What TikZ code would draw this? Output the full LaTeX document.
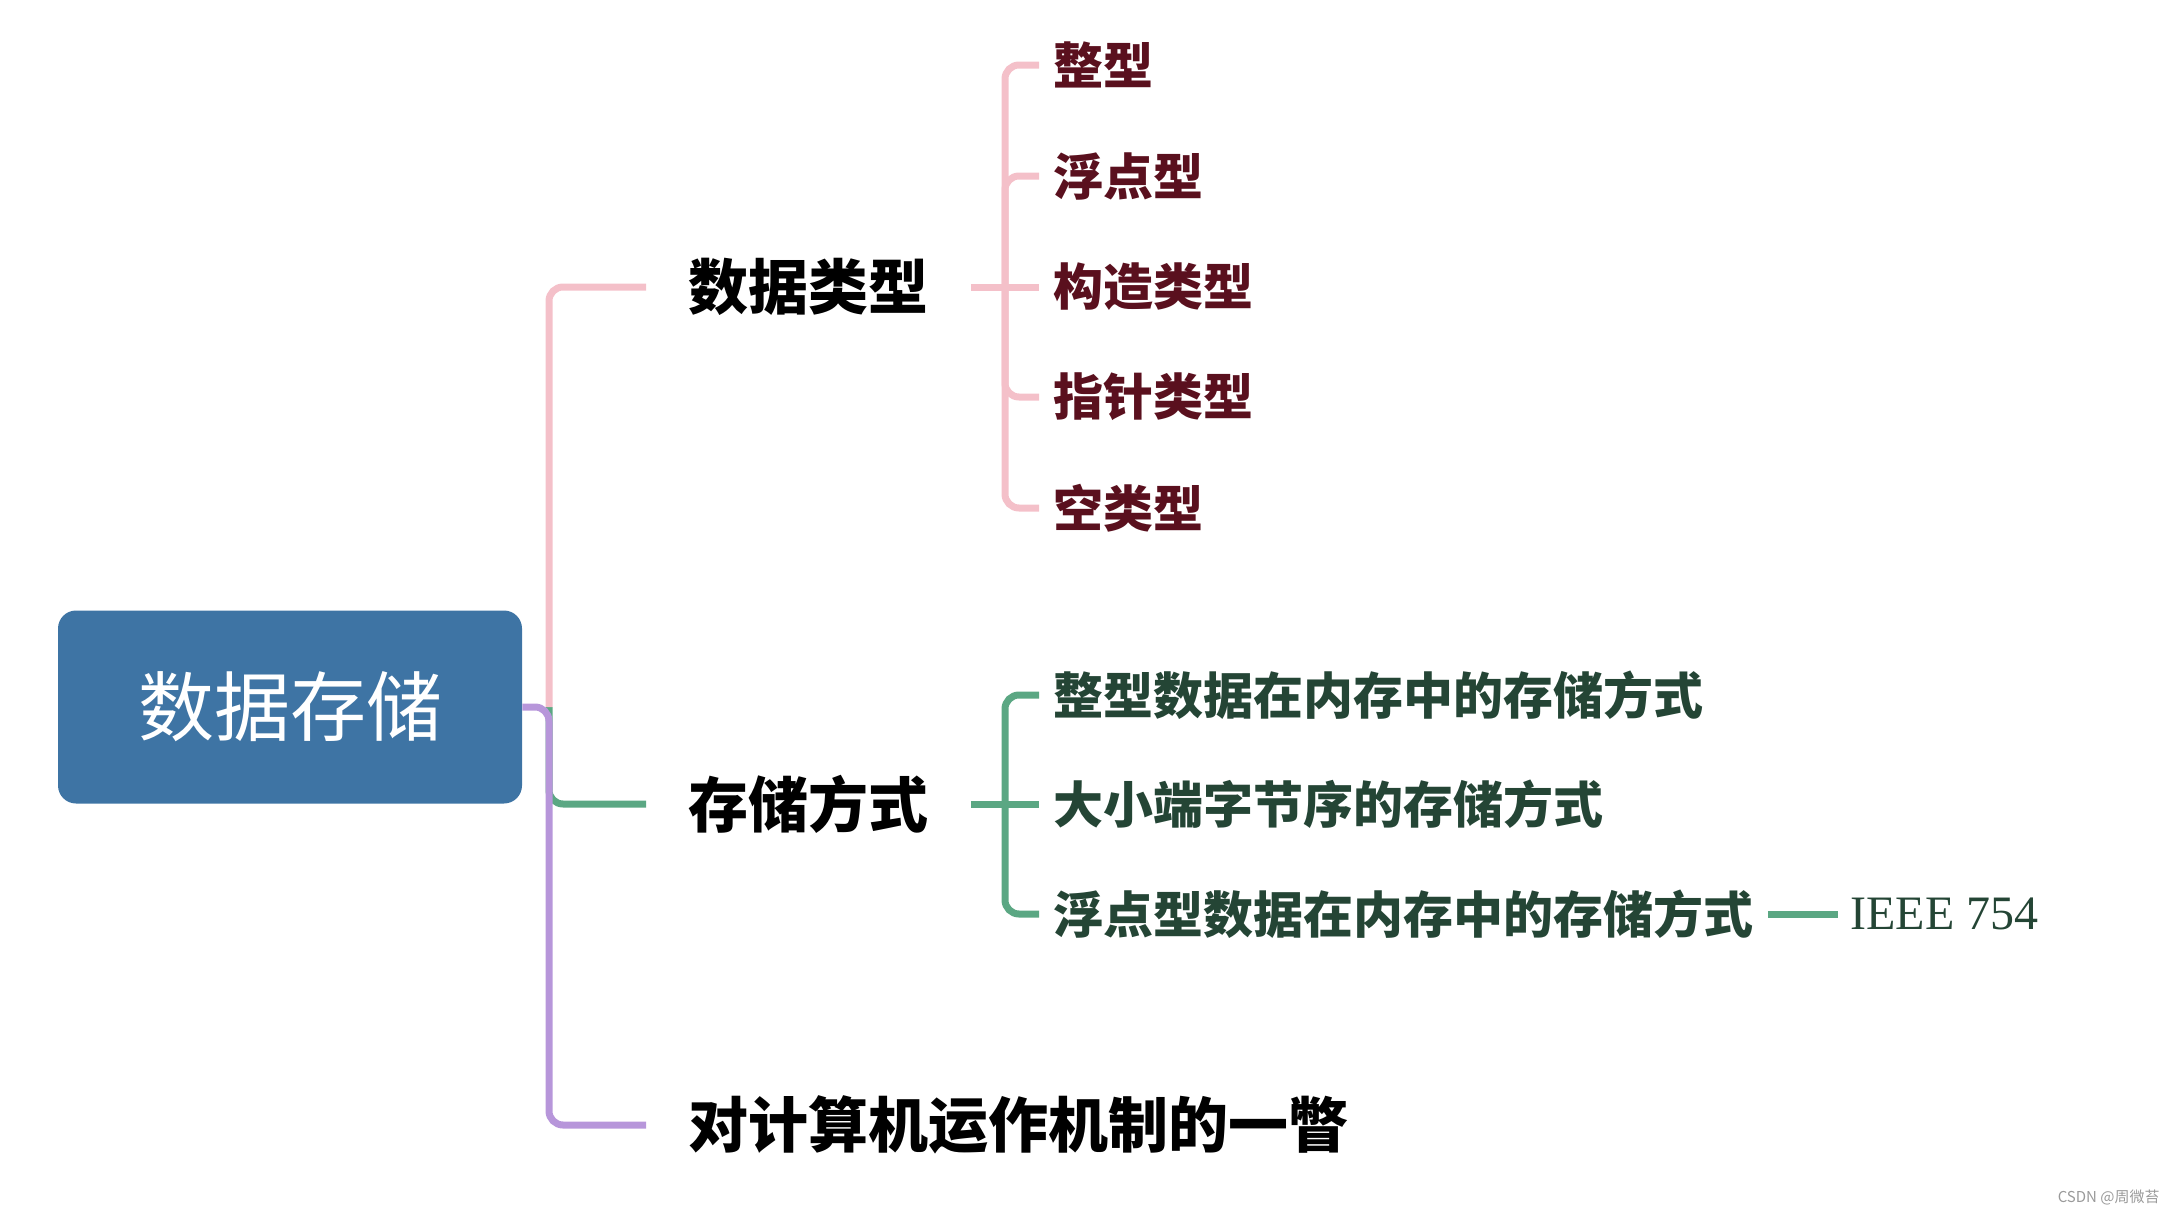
\documentclass[tikz,border=0pt]{standalone}
\usepackage{fontspec}
\setmainfont{Liberation Serif}
\newfontfamily\cjk{Noto Sans CJK SC}
\newfontfamily\cjkk{Noto Sans CJK SC Black}
\definecolor{boxblue}{HTML}{3E74A4}
\definecolor{pinkline}{HTML}{F4C0C9}
\definecolor{purpline}{HTML}{B796DA}
\definecolor{greenline}{HTML}{5BA783}
\definecolor{maroon}{HTML}{5A101E}
\definecolor{dgreen}{HTML}{244535}
\definecolor{wmgray}{HTML}{9A9A9A}
\tikzset{
  rootbox/.style={fill=boxblue, draw=none, rounded corners=9pt, minimum width=232pt, minimum height=96.5pt, inner sep=0pt, text=white, font=\cjk\fontsize{38}{44}\selectfont},
  lvone/.style={anchor=west, inner xsep=21pt, inner ysep=0pt, text=black, font=\cjkk\fontsize{30}{36}\selectfont},
  leafpink/.style={anchor=west, inner xsep=7pt, inner ysep=0pt, text=maroon, font=\cjkk\fontsize{25}{30}\selectfont},
  leafgreen/.style={anchor=west, inner xsep=7pt, inner ysep=0pt, text=dgreen, font=\cjkk\fontsize{25}{30}\selectfont},
  conn/.style={line width=3.5pt, rounded corners=7pt},
}
\begin{document}
\begin{tikzpicture}[x=0.5pt,y=-0.5pt]
\useasboundingbox (0,0) rectangle (2170,1210);
% root
\node[rootbox] (root) at (290,707) {数据存储};
% level one
\node[lvone] (dt) at (646,287) {数据类型};
\node[lvone] (cc) at (646,804) {存储方式};
\node[lvone] (jj) at (646,1125) {对计算机运作机制的一瞥};
% leaves pink
\node[leafpink] (p1) at (1039,65) {整型};
\node[leafpink] (p2) at (1039,176) {浮点型};
\node[leafpink] (p3) at (1039,287) {构造类型};
\node[leafpink] (p4) at (1039,397) {指针类型};
\node[leafpink] (p5) at (1039,508) {空类型};
% leaves green
\node[leafgreen] (g1) at (1039,695) {整型数据在内存中的存储方式};
\node[leafgreen] (g2) at (1039,804) {大小端字节序的存储方式};
\node[leafgreen] (g3) at (1039,914) {浮点型数据在内存中的存储方式};
\node[anchor=west, inner xsep=6pt, inner ysep=0pt, text=dgreen, font=\fontsize{24}{29}\selectfont] (ieee) at (1838,914) {IEEE 754};
% watermark
\node[anchor=east, inner sep=0pt, text=wmgray, font=\cjk\fontsize{7.5}{9}\selectfont] (wm) at (2160,1197) {CSDN @周微苔};
% coordinates
\coordinate (J) at (549,707);
\coordinate (hp) at (1005,287);
\coordinate (hg) at (1005,804);
% level one connectors
\draw[conn, greenline] (J) |- (cc.west);
\draw[conn, pinkline] (J) |- (dt.west);
\draw[conn, purpline] (root.east) -- (J) |- (jj.west);
% pink sub-branch
\draw[conn, pinkline] (dt.east) -- (p3.west);
\foreach \n in {p1,p2,p4,p5} \draw[conn, pinkline] (hp) |- (\n.west);
% green sub-branch
\draw[conn, greenline] (cc.east) -- (g2.west);
\foreach \n in {g1,g3} \draw[conn, greenline] (hg) |- (\n.west);
\draw[line width=3.5pt, greenline] (g3.east) -- (ieee.west);
\end{tikzpicture}
\end{document}
